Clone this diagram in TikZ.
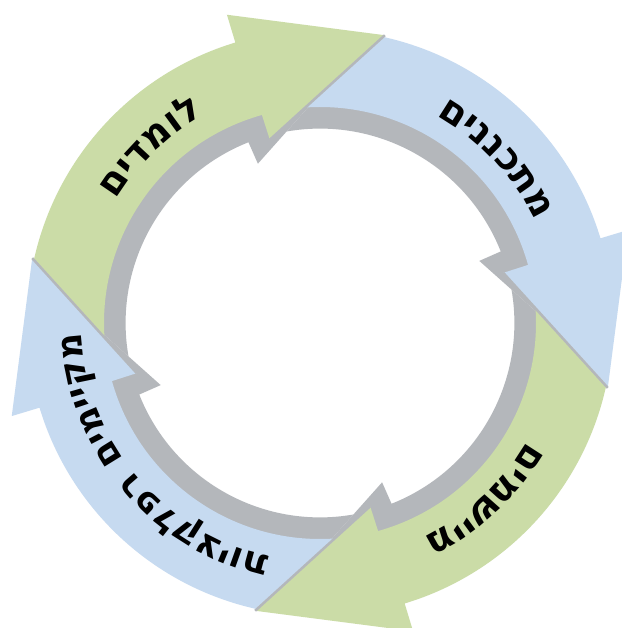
\documentclass[tikz,border=0pt]{standalone}
\usepackage{fontspec}
\newfontfamily\hebfont{DejaVu Sans}
\usetikzlibrary{decorations.text}
\definecolor{cgreen}{RGB}{203,220,167}
\definecolor{cblue}{RGB}{198,218,240}
\definecolor{cgray}{RGB}{180,183,187}
\newcommand\arrowpath{(183.9:216) -- (167.6:293) arc[start angle=167.6, end angle=106.8, radius=293] -- (106.8:322) -- (77.3:295) -- (105.3:190) -- (105.6:216) arc[start angle=105.6, end angle=183.9, radius=216] -- cycle}
\newcommand\hebtext{\hebfont\bfseries\fontsize{38}{40}\selectfont}
\newcommand\hebtextsmall{\hebfont\bfseries\fontsize{36}{38}\selectfont}
\tikzset{
  shadowcopy/.style={fill=cgray, scale=0.9},
  edgeline/.style={draw=cgray, line width=2.5pt},
  arclabel/.style={decorate, decoration={text along path, text align=center, text={|\hebtext|#1}}},
  arclabelsmall/.style={decorate, decoration={text along path, text align=center, text={|\hebtextsmall|#1}}}
}
\begin{document}
\begin{tikzpicture}[x=1pt,y=1pt]
\useasboundingbox (-320,-305) rectangle (301,323);
\fill[white] (-320,-305) rectangle (301,323);
% gray extrusion ring
\foreach \a in {0,-90,180,90}{
  \fill[shadowcopy, rotate=\a+6] \arrowpath;
}
% coloured arrows
\fill[cgreen] \arrowpath;
\fill[cblue, rotate=-90] \arrowpath;
\fill[cgreen, rotate=180] \arrowpath;
\fill[cblue, rotate=90] \arrowpath;
% thin gray strips along the arrow heads
\foreach \a in {0,-90,180,90}{
  \draw[edgeline, rotate=\a] (105.3:190) -- (77.3:295);
}
% labels (letters laid clockwise, tops outward)
\path[arclabel={םידמול}] (165:238) arc[start angle=165, end angle=103, radius=238];
\path[arclabel={םיננכתמ}] (78:238) arc[start angle=78, end angle=8, radius=238];
\path[arclabel={םימשיימ}] (-12:238) arc[start angle=-12, end angle=-82, radius=238];
\path[arclabelsmall={םימייקמ}] (230:239) arc[start angle=230, end angle=167, radius=239];
\path[arclabelsmall={תויצקלפר}] (273:239) arc[start angle=273, end angle=203, radius=239];
\end{tikzpicture}
\end{document}
